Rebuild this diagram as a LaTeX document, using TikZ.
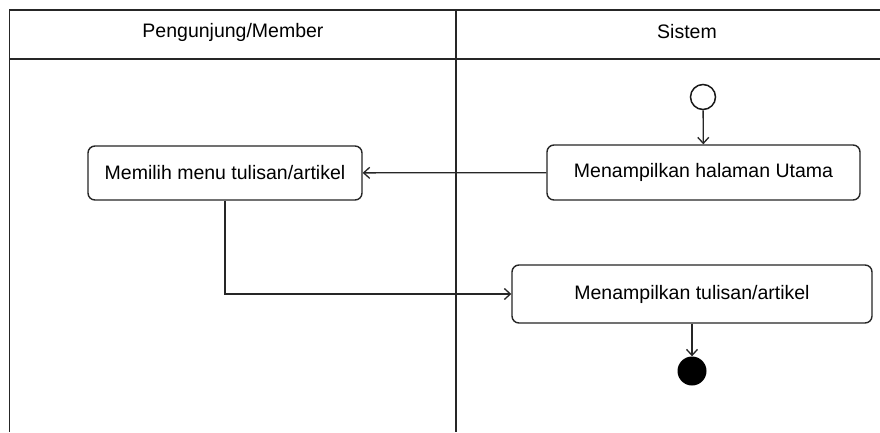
\documentclass[tikz,border=0pt]{standalone}
\usepackage{fontspec}
\setmainfont{Liberation Sans}
\usetikzlibrary{arrows.meta}
\begin{document}
\begin{tikzpicture}[x=1pt,y=-1pt,
  lane/.style={draw=black!85,line width=1.4pt},
  act/.style={draw=black!85,line width=1.4pt,rounded corners=7pt,font=\fontsize{19.5}{22}\selectfont,inner sep=0pt},
  hdr/.style={font=\fontsize{19.5}{22}\selectfont,inner sep=0pt},
  flow/.style={draw=black!85,line width=1.3pt,-{Straight Barb[length=6pt,width=11pt,line width=1.3pt]}}]
\useasboundingbox (0,0) rectangle (880,432);
\fill[white] (0,0) rectangle (880,432);
% swimlane frame
\coordinate (tl) at (9.5,10);
\coordinate (tr) at (885,10);
\coordinate (hl) at (9.5,59);
\coordinate (hr) at (885,59);
\coordinate (bl) at (9.5,432);
\coordinate (dt) at (456,10);
\coordinate (db) at (456,432);
\draw[lane] (tr) -- (tl) -- (bl);
\draw[lane] (hl) -- (hr);
\draw[lane] (dt) -- (db);
\node[hdr] (h1) at (233,32) {Pengunjung/Member};
\node[hdr] (h2) at (687,32) {Sistem};
% nodes
\node[draw=black!90,line width=1.5pt,circle,minimum size=25pt,inner sep=0pt] (start) at (703,97) {};
\node[act,minimum width=313pt,minimum height=55pt] (a1) at (703.5,172.5) {Menampilkan halaman Utama};
\node[act,minimum width=274pt,minimum height=54pt] (a2) at (225,173) {Memilih menu tulisan/artikel};
\node[act,minimum width=360pt,minimum height=58pt] (a3) at (692,294) {Menampilkan tulisan/artikel};
\node[fill=black,circle,minimum size=29pt,inner sep=0pt] (end) at (692,371) {};
% flows
\draw[flow] (start) -- (a1);
\draw[flow] (a1) -- (a2);
\draw[flow] (a2.south) |- (a3.west);
\draw[flow] (a3) -- (end);
\end{tikzpicture}
\end{document}
